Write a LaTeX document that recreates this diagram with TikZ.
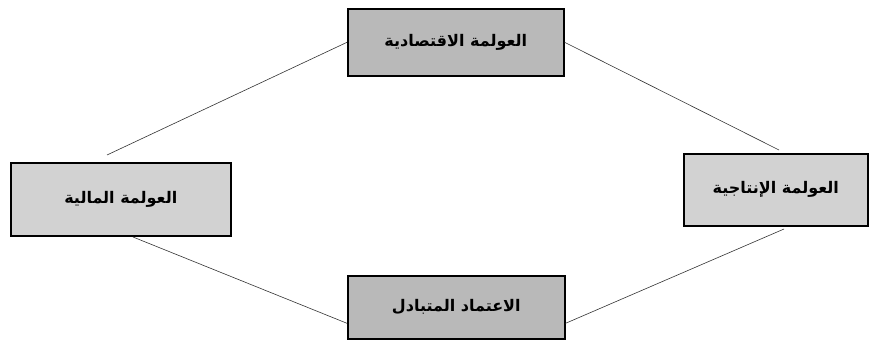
\documentclass[tikz,border=0pt]{standalone}
\usepackage{fontspec}
\newfontfamily\arabicfont[Script=Arabic]{DejaVu Sans}
\TeXXeTstate=1
\begin{document}
\begin{tikzpicture}[x=1pt,y=-1pt,
  box/.style={draw=black,line width=1.6pt,fill=#1,anchor=north west,inner sep=0pt,
    font=\arabicfont\bfseries\fontsize{16}{19}\selectfont},
  link/.style={draw=black!80,line width=0.6pt}]
\useasboundingbox (0,0) rectangle (869,342);
\node[box=gray!55,minimum width=216pt,minimum height=67pt] (top) at (347,8) {\beginR العولمة الاقتصادية\endR};
\node[box=gray!35,minimum width=220pt,minimum height=73pt] (left) at (10,162) {\beginR العولمة المالية\endR};
\node[box=gray!35,minimum width=184pt,minimum height=72pt] (right) at (683,153) {\beginR العولمة الإنتاجية\endR};
\node[box=gray!55,minimum width=217pt,minimum height=63pt] (bottom) at (347,275) {\beginR الاعتماد المتبادل\endR};
\coordinate (tl) at (107,155);
\coordinate (tr) at (779,150);
\coordinate (bl) at (133,237);
\coordinate (br) at (784,229);
\draw[link] (top.west) -- (tl);
\draw[link] (top.east) -- (tr);
\draw[link] (bl) -- ([yshift=-16pt]bottom.west);
\draw[link] ([yshift=-16pt]bottom.east) -- (br);
\end{tikzpicture}
\end{document}
